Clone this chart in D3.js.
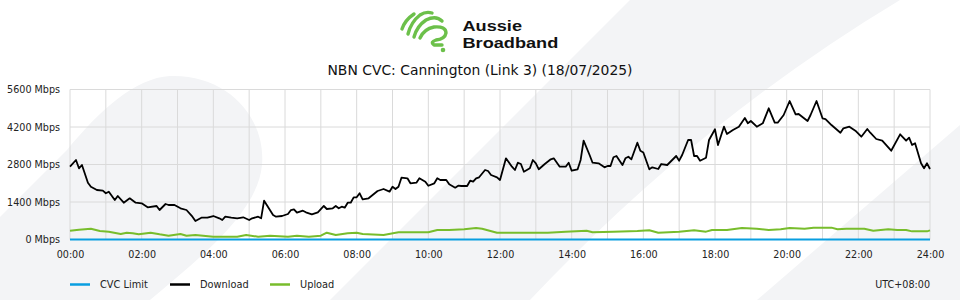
<!DOCTYPE html>
<html>
<head>
<meta charset="utf-8">
<script src="https://cdn.jsdelivr.net/npm/d3@7"></script>
<style>
  html, body { margin: 0; padding: 0; background: #ffffff; }
  svg { display: block; }
  text { font-family: "DejaVu Sans", sans-serif; fill: #222; }
</style>
</head>
<body>
<svg id="chart" width="960" height="300"></svg>
<script>
// ---- Data ----
const titleText = "NBN CVC: Cannington (Link 3) (18/07/2025)";
const logoLines = ["Aussie", "Broadband"];
const timezoneLabel = "UTC+08:00";
const seriesNames = ["CVC Limit", "Download", "Upload"];
const xTickLabels = ["00:00","02:00","04:00","06:00","08:00","10:00","12:00","14:00","16:00","18:00","20:00","22:00","24:00"];
const yTickValues = [0, 1400, 2800, 4200, 5600];

// time in minutes after midnight
const cvcMinutes = [0, 1440];
const cvcMbps = [0, 0];

const downloadMinutes = [0,10,15,20,30,35,45,55,60,65,75,80,90,100,110,120,130,145,150,160,165,175,185,195,205,210,220,230,240,250,255,260,270,280,290,300,305,315,320,325,340,345,355,365,370,375,380,390,395,405,415,425,430,440,445,450,455,460,465,470,475,480,485,490,500,515,520,525,535,540,545,550,555,565,570,580,585,595,600,610,615,620,630,635,645,650,655,665,670,675,680,685,695,700,705,715,720,730,740,745,750,755,760,770,775,780,785,795,805,810,820,830,835,840,850,855,860,870,875,885,895,900,905,910,915,925,930,935,940,950,955,960,970,975,985,990,1000,1015,1020,1025,1035,1040,1045,1050,1055,1065,1070,1080,1085,1095,1100,1110,1120,1130,1135,1140,1150,1160,1170,1180,1185,1195,1205,1215,1220,1235,1240,1250,1260,1265,1275,1290,1295,1305,1315,1325,1335,1340,1350,1360,1375,1390,1400,1405,1410,1415,1425,1430,1435,1440];
const downloadMbps = [2718,2968,2658,2781,2120,1971,1848,1822,1725,1785,1475,1624,1374,1538,1374,1351,1202,1251,1101,1325,1288,1288,1165,1101,851,690,814,814,877,791,728,851,814,791,829,728,791,851,791,1449,915,851,877,952,1101,1127,1000,1075,1015,940,1015,1251,1139,1165,1251,1165,1225,1187,1374,1374,1575,1575,1725,1500,1538,1811,1848,1885,1785,1971,1885,1971,2307,2285,2098,2120,2285,2158,2008,2098,2285,2221,2221,2061,1934,2008,1997,1997,2195,2158,2285,2322,2594,2557,2408,2322,2221,3031,2718,2594,2867,2818,2531,2658,2968,2845,2621,2818,2994,3031,2718,2718,2867,2568,2621,2968,3689,3155,2867,2845,2695,2744,2744,3069,3117,2781,3031,3091,2994,3614,3315,3250,2621,2695,2632,2818,2781,3117,2942,3155,3714,3714,3117,3117,2942,3054,3714,4114,3528,4211,3938,4088,4211,4536,4338,4424,4211,4338,4898,4360,4360,4648,5170,4674,4685,4424,4648,5170,4524,4498,4274,3987,4151,4211,4062,3838,4125,3987,3752,3689,3315,3927,3689,3800,3528,3591,2845,2658,2845,2632];

const uploadMinutes = [0,15,35,50,65,85,95,105,115,135,150,165,185,195,210,240,280,295,315,335,365,380,400,420,430,445,465,480,490,525,550,600,615,635,660,680,690,715,740,770,800,830,865,875,910,950,970,985,1020,1045,1065,1075,1100,1125,1150,1170,1190,1205,1230,1245,1275,1285,1300,1330,1345,1370,1385,1400,1410,1435,1440];
const uploadMbps = [329,366,403,317,291,205,254,231,194,254,194,142,205,142,168,105,105,168,105,142,105,142,105,142,254,168,231,254,205,168,268,268,355,355,380,430,400,254,254,254,254,293,329,268,293,317,342,254,293,342,293,355,355,430,403,355,380,430,403,442,442,380,403,403,329,380,355,355,304,304,342];

// ---- Drawing ----
const svg = d3.select("#chart");
const plot = { left: 70, right: 930, top: 89.5, bottom: 239.5 };

const x = d3.scaleLinear().domain([0, 1440]).range([plot.left, plot.right]);
const y = d3.scaleLinear().domain([0, 5600]).range([plot.bottom, plot.top]);

// background decorative shapes
const bg = svg.append("g").attr("fill", "#f3f4f6");
bg.append("path").attr("d", "M0,217 L67,150 C100,110 135,78 170,76 C228,74 266,118 262,165 C258,212 200,258 150,300 L0,300 Z");
bg.append("path").attr("d", "M630,0 L900,0 Q700,120 530,300 L330,300 Z");
bg.append("path").attr("d", "M960,125 L757,300 L960,300 Z");

// logo
const logo = svg.append("g");
const green = "#6cc04a";
const strokes = [
  "M402,29 Q405,20 414,14",
  "M408,34 Q411,22 420,15 Q426,11 432,13",
  "M414,37 Q417,26 426,20 Q436,15 442,21",
  "M420,38 Q424,29 434,27 Q446,26 446,33 Q445,39 436,40 Q430,42 434,45 L442,45"
];
strokes.forEach(d => logo.append("path").attr("d", d)
  .attr("fill", "none").attr("stroke", green).attr("stroke-width", 3.4)
  .attr("stroke-linecap", "round").attr("stroke-linejoin", "round"));
logo.append("circle").attr("cx", 443).attr("cy", 50).attr("r", 2.3).attr("fill", green);
[[logoLines[0], 31], [logoLines[1], 47.8]].forEach(([t, by]) => {
  logo.append("text").attr("transform", `translate(462.5,${by}) scale(1.1,0.93)`)
    .attr("x", 0).attr("y", 0).text(t)
    .style("font-family", "'Liberation Sans', Arial, sans-serif").style("font-weight", "bold")
    .style("font-size", "16.5px").style("fill", "#111");
});

// title
svg.append("text").attr("x", 480).attr("y", 75).attr("text-anchor", "middle")
  .style("font-size", "13.9px").style("fill", "#111").text(titleText);

// grid
const grid = svg.append("g").attr("stroke", "#dadada").attr("stroke-width", 1);
d3.range(0, 1441, 60).forEach(m => grid.append("line")
  .attr("x1", x(m)).attr("x2", x(m)).attr("y1", plot.top).attr("y2", plot.bottom));
yTickValues.forEach(v => grid.append("line")
  .attr("x1", plot.left).attr("x2", plot.right).attr("y1", y(v)).attr("y2", y(v)));

// axes (labels only)
const yAxis = d3.axisLeft(y).tickValues(yTickValues).tickSize(0).tickPadding(10)
  .tickFormat(d => d + " Mbps");
const gy = svg.append("g").attr("transform", `translate(${plot.left},0)`).call(yAxis);
gy.select(".domain").remove();
gy.selectAll("text").style("font-family", "'DejaVu Sans', sans-serif").style("font-size", "9.6px").style("fill", "#222");

const xAxis = d3.axisBottom(x).tickValues(d3.range(0, 1441, 120)).tickSize(0).tickPadding(12)
  .tickFormat((d, i) => xTickLabels[i]);
const gx = svg.append("g").attr("transform", `translate(0,${plot.bottom})`).call(xAxis);
gx.select(".domain").remove();
gx.selectAll("text").style("font-family", "'DejaVu Sans', sans-serif").style("font-size", "9.6px").style("fill", "#222");

// series
const colors = { cvc: "#089ee0", download: "#000000", upload: "#78bd2c" };
const line = d3.line().x(d => x(d[0])).y(d => y(d[1]));
const zip = (a, b) => a.map((v, i) => [v, b[i]]);

svg.append("path").datum(zip(cvcMinutes, cvcMbps)).attr("d", line)
  .attr("fill", "none").attr("stroke", colors.cvc).attr("stroke-width", 2.2);
svg.append("path").datum(zip(uploadMinutes, uploadMbps)).attr("d", line)
  .attr("fill", "none").attr("stroke", colors.upload).attr("stroke-width", 2).attr("stroke-linejoin", "round");
svg.append("path").datum(zip(downloadMinutes, downloadMbps)).attr("d", line)
  .attr("fill", "none").attr("stroke", colors.download).attr("stroke-width", 1.8).attr("stroke-linejoin", "round");

// legend
const legendColors = [colors.cvc, colors.download, colors.upload];
const lg = svg.append("g");
seriesNames.forEach((name, i) => {
  const lx = 70 + i * 100;
  lg.append("line").attr("x1", lx).attr("x2", lx + 20).attr("y1", 284.5).attr("y2", 284.5)
    .attr("stroke", legendColors[i]).attr("stroke-width", 2.5);
  lg.append("text").attr("x", lx + 30).attr("y", 288).style("font-size", "9.8px").style("fill", "#222").text(name);
});
svg.append("text").attr("x", 930).attr("y", 288).attr("text-anchor", "end")
  .style("font-size", "9.6px").style("fill", "#222").text(timezoneLabel);
</script>
</body>
</html>
